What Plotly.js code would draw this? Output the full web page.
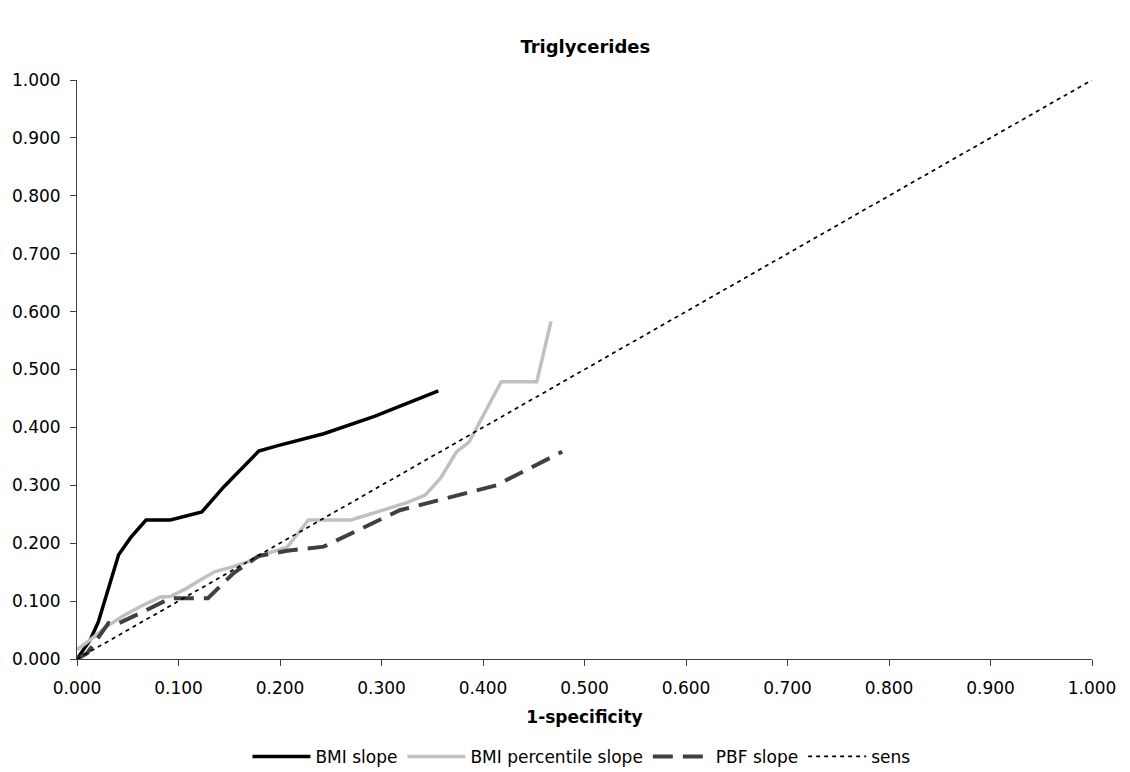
<!DOCTYPE html>
<html>
<head>
<meta charset="utf-8">
<script src="https://cdn.plot.ly/plotly-3.0.1.min.js"></script>
<style>html,body{margin:0;padding:0;background:#fff;}#chart{width:1130px;height:772px;}</style>
</head>
<body>
<div id="chart"></div>
<script>
// BMI slope
const bmiX = [0.000, 0.013, 0.021, 0.041, 0.053, 0.068, 0.092, 0.123, 0.145, 0.179, 0.197, 0.243, 0.293, 0.356];
const bmiY = [0.000, 0.033, 0.064, 0.180, 0.210, 0.240, 0.240, 0.254, 0.298, 0.359, 0.368, 0.389, 0.419, 0.463];
// BMI percentile slope
const pctX = [0.000, 0.013, 0.029, 0.047, 0.064, 0.082, 0.092, 0.108, 0.121, 0.136, 0.151, 0.167, 0.180, 0.207, 0.228, 0.270, 0.325, 0.343, 0.358, 0.374, 0.386, 0.418, 0.453, 0.467];
const pctY = [0.016, 0.033, 0.056, 0.076, 0.092, 0.107, 0.108, 0.122, 0.136, 0.151, 0.158, 0.167, 0.178, 0.193, 0.240, 0.240, 0.270, 0.283, 0.312, 0.358, 0.374, 0.479, 0.479, 0.583];
// PBF slope
const pbfX = [0.000, 0.010, 0.031, 0.039, 0.062, 0.092, 0.129, 0.154, 0.179, 0.207, 0.243, 0.318, 0.413, 0.478];
const pbfY = [0.000, 0.010, 0.062, 0.060, 0.079, 0.105, 0.105, 0.148, 0.178, 0.187, 0.194, 0.257, 0.300, 0.358];
// sens (reference diagonal)
const sensX = [0, 1];
const sensY = [0, 1];

const font = 'DejaVu Sans, Verdana, sans-serif';

const traces = [
  {x: bmiX, y: bmiY, name: 'BMI slope', mode: 'lines', line: {color: '#000000', width: 3.5}},
  {x: pctX, y: pctY, name: 'BMI percentile slope', mode: 'lines', line: {color: '#c0c0c0', width: 3.5}},
  {x: pbfX, y: pbfY, name: 'PBF slope', mode: 'lines', line: {color: '#404040', width: 4, dash: '20px,10px'}},
  {x: sensX, y: sensY, name: 'sens', mode: 'lines', line: {color: '#000000', width: 1.7, dash: '4px,4px'}}
];

const layout = {
  width: 1130, height: 772,
  margin: {l: 77, r: 38, t: 80, b: 113, autoexpand: false},
  paper_bgcolor: '#fff', plot_bgcolor: '#fff',
  font: {family: font, size: 17, color: '#000'},
  title: {text: '<b>Triglycerides</b>', font: {family: font, size: 18, color: '#000'}, x: 0.518, xanchor: 'center', y: 0.94, yanchor: 'middle'},
  showlegend: true,
  legend: {orientation: 'h', x: 0.497, xanchor: 'center', y: -0.169, yanchor: 'middle', font: {family: font, size: 17, color: '#000'}, bgcolor: 'rgba(0,0,0,0)', traceorder: 'normal', itemwidth: 58},
  xaxis: {
    range: [0, 1], dtick: 0.1, tick0: 0, tickformat: '.3f', automargin: false,
    showgrid: false, zeroline: false, showline: true, linecolor: '#404040', linewidth: 1,
    ticks: 'outside', ticklen: 6, tickcolor: '#404040', ticklabelstandoff: 8,
    tickfont: {family: font, size: 17, color: '#000'},
    title: {text: '<b>1-specificity</b>', font: {family: font, size: 17, color: '#000'}, standoff: 13}
  },
  yaxis: {
    range: [0, 1], dtick: 0.1, tick0: 0, tickformat: '.3f', automargin: false,
    showgrid: false, zeroline: false, showline: true, linecolor: '#404040', linewidth: 1,
    ticks: 'outside', ticklen: 6, tickcolor: '#404040', ticklabelstandoff: 6,
    tickfont: {family: font, size: 17, color: '#000'}
  }
};

Plotly.newPlot('chart', traces, layout, {displayModeBar: false, staticPlot: true});
</script>
</body>
</html>
